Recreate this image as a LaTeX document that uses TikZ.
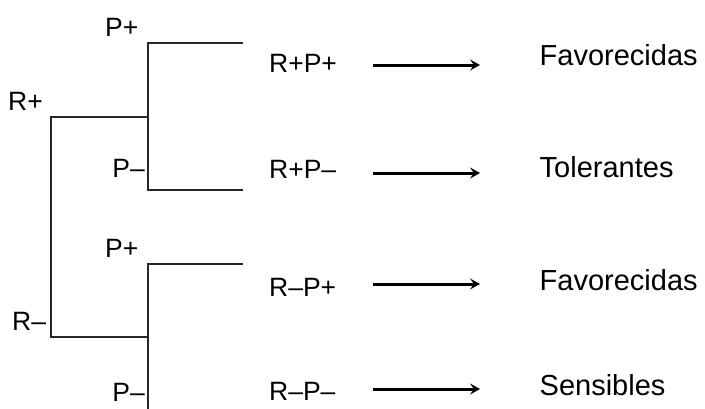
\documentclass[tikz,border=0pt]{standalone}
\usepackage{fontspec}
\setmainfont{Liberation Sans}
\usetikzlibrary{arrows.meta}
\begin{document}
\begin{tikzpicture}[x=1pt,y=-1pt,
  branch/.style={draw=black!85, line width=1.8pt},
  treelbl/.style={inner sep=0pt, font=\fontsize{26.5}{28}\selectfont},
  combo/.style={inner sep=0pt, anchor=base west, font=\fontsize{26.5}{28}\selectfont},
  result/.style={inner sep=0pt, anchor=base west, font=\fontsize{29}{32}\selectfont},
  outcome/.style={line width=3pt, -{Stealth[length=10pt,width=11pt,inset=4pt]}}]
\useasboundingbox (0,0) rectangle (705,408);

% tree joints
\coordinate (root)  at (51,117);
\coordinate (rp)    at (148,117);
\coordinate (rmL)   at (51,337);
\coordinate (rm)    at (148,337);
\coordinate (ppTop) at (148,43);
\coordinate (ppEnd) at (243,43);
\coordinate (pmTop) at (148,190);
\coordinate (pmEnd) at (243,190);
\coordinate (ppBot) at (148,264);
\coordinate (ppBotEnd) at (243,264);
\coordinate (pmBot) at (148,409.5);
\coordinate (pmBotEnd) at (243,409.5);

% tree branches
\draw[branch] (rp) -- (root) -- (rmL) -- (rm);
\draw[branch] (ppEnd) -- (ppTop) -- (pmTop) -- (pmEnd);
\draw[branch] (ppBotEnd) -- (ppBot) -- (pmBot) -- (pmBotEnd);

% tree labels
\node[treelbl, anchor=base west] (lRp)  at (8,110.5)  {R+};
\node[treelbl, anchor=base west] (lPp1) at (105,36.5) {P+};
\node[treelbl, anchor=base east] (lPm1) at (145,177.5){P–};
\node[treelbl, anchor=base west] (lPp2) at (105,257.5){P+};
\node[treelbl, anchor=base west] (lRm)  at (12,330.5) {R–};
\node[treelbl, anchor=base east] (lPm2) at (145,401.5){P–};

% combinations
\node[combo] (c1) at (269,72)   {R+P+};
\node[combo] (c2) at (269,178.5){R+P–};
\node[combo] (c3) at (269,296.5){R–P+};
\node[combo] (c4) at (269,400.5){R–P–};

% outcomes
\node[result] (o1) at (539.5,65)  {Favorecidas};
\node[result] (o2) at (539.5,177) {Tolerantes};
\node[result] (o3) at (539.5,290) {Favorecidas};
\node[result] (o4) at (539.5,395) {Sensibles};

% arrows
\coordinate (s1) at (373,65);  \coordinate (e1) at (480,65);
\coordinate (s2) at (373,173); \coordinate (e2) at (480,173);
\coordinate (s3) at (373,284); \coordinate (e3) at (480,284);
\coordinate (s4) at (373,389); \coordinate (e4) at (480,389);
\draw[outcome] (s1) -- (e1);
\draw[outcome] (s2) -- (e2);
\draw[outcome] (s3) -- (e3);
\draw[outcome] (s4) -- (e4);
\end{tikzpicture}
\end{document}
